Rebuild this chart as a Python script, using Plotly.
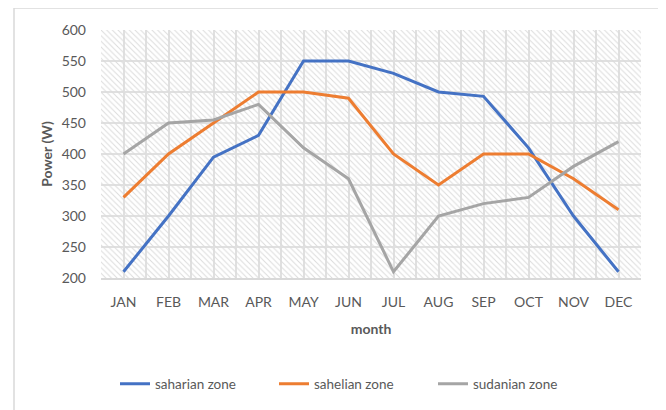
import plotly.graph_objects as go

months = ["JAN", "FEB", "MAR", "APR", "MAY", "JUN", "JUL", "AUG", "SEP", "OCT", "NOV", "DEC"]
saharian = [210, 300, 395, 430, 550, 550, 530, 500, 493, 410, 300, 210]
sahelian = [330, 400, 450, 500, 500, 490, 400, 350, 400, 400, 360, 310]
sudanian = [400, 450, 455, 480, 410, 360, 210, 300, 320, 330, 380, 420]
y_ticks = [200, 250, 300, 350, 400, 450, 500, 550, 600]

x = list(range(len(months)))
xmin, xmax = -0.5, len(months) - 0.5
ymin, ymax = y_ticks[0], y_ticks[-1]

fig = go.Figure()

# hatched plot-area background
fig.add_trace(go.Scatter(
    x=[xmin, xmax, xmax, xmin, xmin], y=[ymin, ymin, ymax, ymax, ymin],
    mode="none", fill="toself", fillcolor="rgba(0,0,0,0)",
    fillpattern=dict(shape="\\", fgcolor="#dcdcdc", bgcolor="rgba(0,0,0,0)",
                     size=4, solidity=0.25, fillmode="replace"),
    hoverinfo="skip", showlegend=False))

series = [("saharian zone", saharian, "#4472C4"),
          ("sahelian zone", sahelian, "#ED7D31"),
          ("sudanian zone", sudanian, "#A5A5A5")]
for name, vals, col in series:
    fig.add_trace(go.Scatter(x=x, y=vals, name=name, mode="lines",
                             line=dict(color=col, width=3)))

font_fam = "Lato, 'Open Sans', sans-serif"
OFF = 8  # page body margin
W, H = 666 - OFF, 410 - OFF
L, R, T, B = 101 - OFF, 25, 30 - OFF, 132
pw, ph = W - L - R, H - T - B

def px_x(p):
    return (p - OFF - L) / pw

def px_y(p):
    return (H - B - (p - OFF)) / ph

fig.add_shape(type="rect", xref="paper", yref="paper",
              x0=px_x(14), x1=px_x(659), y0=px_y(420), y1=px_y(8),
              line=dict(color="#d9d9d9", width=1.5), fillcolor="rgba(0,0,0,0)",
              layer="below")

fig.update_layout(
    width=W, height=H,
    margin=dict(l=L, r=R, t=T, b=B, pad=0, autoexpand=False),
    paper_bgcolor="white", plot_bgcolor="white",
    font=dict(family=font_fam, size=14, color="#595959"),
    showlegend=True,
    legend=dict(orientation="h", x=px_x(115), xanchor="left", y=px_y(384), yanchor="middle",
                font=dict(size=13.5, color="#595959"), entrywidth=114, entrywidthmode="pixels",
                traceorder="normal", bgcolor="rgba(0,0,0,0)"),
    xaxis=dict(range=[xmin, xmax], tickmode="array", tickvals=x, ticktext=months,
               showgrid=False, zeroline=False, showline=True, linecolor="#d9d9d9",
               linewidth=1.5, ticks="", ticklabelstandoff=10,
               minor=dict(tickmode="linear", tick0=-0.5, dtick=0.5, showgrid=True,
                          gridcolor="#e0e0e0", gridwidth=1.5),
               title=dict(text="<b>month</b>", standoff=16, font=dict(size=14, color="#595959"))),
    yaxis=dict(range=[ymin, ymax], tickmode="array", tickvals=y_ticks,
               showgrid=True, gridcolor="#e0e0e0", gridwidth=1.5, zeroline=False,
               showline=False, ticks="", ticklabelstandoff=14,
               title=dict(text="<b>Power (W)</b>", standoff=5, font=dict(size=14, color="#595959"))),
)

fig.write_html("out.html")
